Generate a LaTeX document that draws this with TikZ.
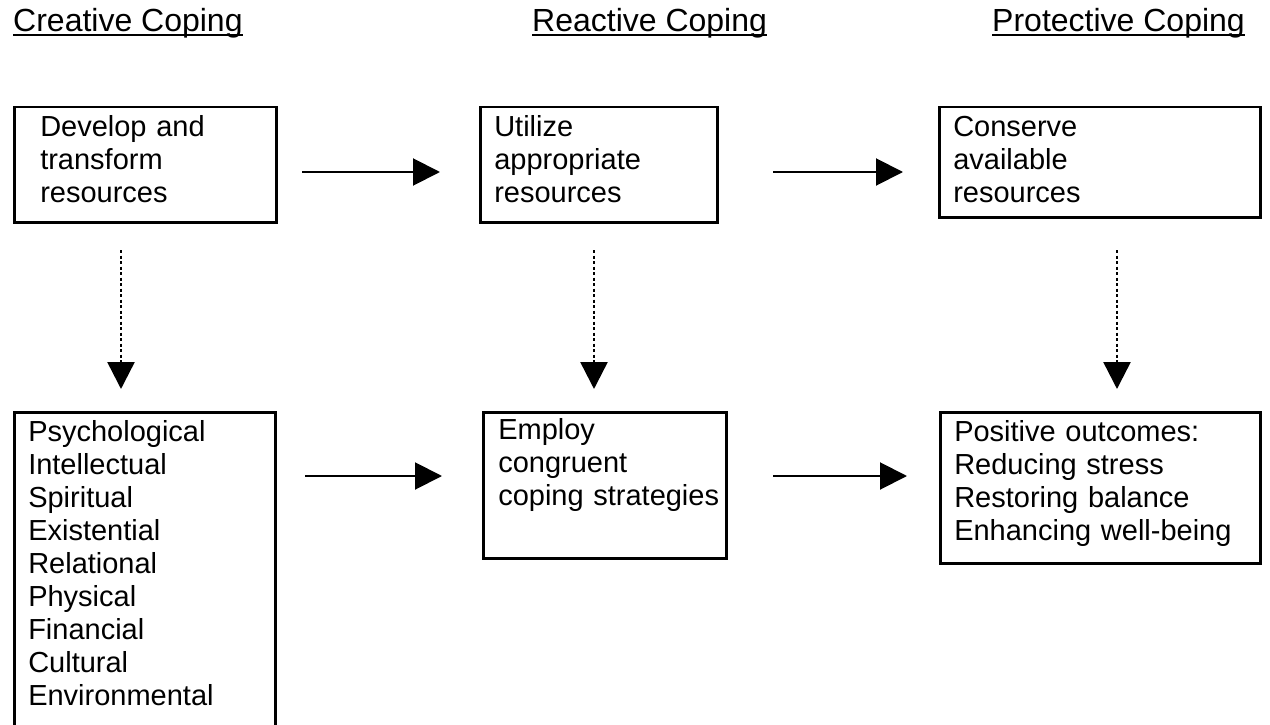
\documentclass[tikz,border=0pt]{standalone}
\usepackage{fontspec}
\setmainfont{Liberation Sans}
\usetikzlibrary{arrows.meta}
\begin{document}
\begin{tikzpicture}[x=1pt,y=1pt,
  hdr/.style={anchor=base west,inner sep=0pt,font=\fontsize{32pt}{36pt}\selectfont},
  ul/.style={line width=1.6pt},
  box/.style={draw,line width=2.5pt,anchor=north west,inner ysep=0pt,align=left,
    font=\fontsize{29pt}{33pt}\selectfont},
  arr/.style={line width=2pt,-{Triangle[length=27pt,width=27pt]}},
  darr/.style={line width=2.5pt,dash pattern=on 3pt off 2.5pt,-{Triangle[length=27pt,width=27pt]}}
]
\useasboundingbox (0,0) rectangle (1270,-725);
% headers
\node[hdr] (h1) at (13,-32) {Creative Coping};
\node[hdr] (h2) at (532,-32) {Reactive Coping};
\node[hdr,anchor=base east] (h3) at (1245,-32) {Protective Coping};
\draw[ul] ([yshift=-3pt]h1.base west) -- ([yshift=-3pt]h1.base east);
\draw[ul] ([yshift=-3pt]h2.base west) -- ([yshift=-3pt]h2.base east);
\draw[ul] ([yshift=-3pt]h3.base west) -- ([yshift=-3pt]h3.base east);
% top row boxes
\node[box,inner xsep=26pt,text width=210pt,text height=29pt,text depth=86pt] (b1) at (13,-106)
  {Develop and\\transform\\resources};
\node[box,inner xsep=14pt,text width=209pt,text height=29pt,text depth=86pt] (b2) at (479,-106)
  {Utilize\\appropriate\\resources};
\node[box,inner xsep=14pt,text width=293pt,text height=29pt,text depth=81pt] (b3) at (938,-106)
  {Conserve\\available\\resources};
% bottom row boxes
\node[box,inner xsep=14pt,text width=233pt,text height=29pt,text depth=310pt] (b4) at (13,-411)
  {Psychological\\Intellectual\\Spiritual\\Existential\\Relational\\Physical\\Financial\\Cultural\\Environmental};
\node[box,inner xsep=15pt,text width=213pt,text height=27pt,text depth=119pt] (b5) at (482,-411)
  {Employ\\congruent\\\mbox{coping strategies}};
\node[box,inner xsep=14pt,text width=292pt,text height=29pt,text depth=122pt] (b6) at (939,-411)
  {Positive outcomes:\\Reducing stress\\Restoring balance\\Enhancing well-being};
% connector end points
\coordinate (a1s) at (302,-172); \coordinate (a1e) at (440,-172);
\coordinate (a2s) at (773,-172); \coordinate (a2e) at (903,-172);
\coordinate (a3s) at (305,-476); \coordinate (a3e) at (442,-476);
\coordinate (a4s) at (773,-476); \coordinate (a4e) at (907,-476);
\coordinate (d1s) at (121,-250); \coordinate (d1e) at (121,-389);
\coordinate (d2s) at (594,-250); \coordinate (d2e) at (594,-389);
\coordinate (d3s) at (1117,-250); \coordinate (d3e) at (1117,-389);
\draw[arr] (a1s) -- (a1e);
\draw[arr] (a2s) -- (a2e);
\draw[arr] (a3s) -- (a3e);
\draw[arr] (a4s) -- (a4e);
\draw[darr] (d1s) -- (d1e);
\draw[darr] (d2s) -- (d2e);
\draw[darr] (d3s) -- (d3e);
\end{tikzpicture}
\end{document}
